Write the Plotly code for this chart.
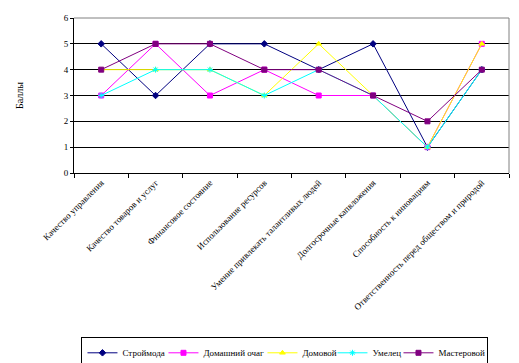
import plotly.graph_objects as go

categories = [
    "Качество управления",
    "Качество товаров и услуг",
    "Финансовое состояние",
    "Использование ресурсов",
    "Умение привлекать талантливых людей",
    "Долгосрочные капвложения",
    "Способность к инновациям",
    "Ответственность перед обществом и природой",
]
series_names = ["Строймода", "Домашний очаг", "Домовой", "Умелец", "Мастеровой"]
stroymoda = [5, 3, 5, 5, 4, 5, 1, 4]
domashniy_ochag = [3, 5, 3, 4, 3, 3, 1, 5]
domovoy = [4, 4, 4, 3, 5, 3, 1, 5]
umelets = [3, 4, 4, 3, 4, 3, 1, 4]
masterovoy = [4, 5, 5, 4, 4, 3, 2, 4]
y_ticks = [0, 1, 2, 3, 4, 5, 6]

values = [stroymoda, domashniy_ochag, domovoy, umelets, masterovoy]
colors = ["#000080", "#FF00FF", "#FFFF00", "#00FFFF", "#800080"]
symbols = ["diamond", "square", "triangle-up", "asterisk-open", "square"]
legend_widths = [36, 54, 25, 21, 44]

font = "Liberation Serif, Times New Roman, serif"

fig = go.Figure()
for name, vals, c, s, lw in zip(series_names, values, colors, symbols, legend_widths):
    fig.add_trace(go.Scatter(
        x=categories, y=vals, name=name, mode="lines+markers",
        line=dict(color=c, width=1),
        marker=dict(symbol=s, size=5, color=c, line=dict(color=c, width=1)),
        legendwidth=lw,
    ))

fig.update_layout(
    width=519, height=363,
    margin=dict(l=74, r=10, t=18, b=190, autoexpand=False),
    paper_bgcolor="white", plot_bgcolor="white",
    font=dict(family=font, size=9, color="black"),
    showlegend=True,
    legend=dict(
        orientation="h", xref="paper", yref="paper",
        x=0.485, y=-1.06, xanchor="center", yanchor="top",
        bordercolor="black", borderwidth=1, bgcolor="white",
        font=dict(size=9, family=font),
        itemwidth=30, tracegroupgap=0,
    ),
    xaxis=dict(
        type="category", tickangle=-45, tickson="boundaries",
        ticks="outside", ticklen=4, tickcolor="black",
        showline=True, linecolor="black", linewidth=1,
        showgrid=False, automargin=False, mirror=False,
        range=[-0.5, 7.5], tickfont=dict(size=9, family=font),
    ),
    yaxis=dict(
        range=[0, 6], tickvals=y_ticks, ticks="outside", ticklen=3,
        tickcolor="black", showline=True, linecolor="black", linewidth=1,
        gridcolor="black", gridwidth=1, zeroline=False, automargin=False,
        title=dict(text="Баллы", font=dict(size=10, family=font), standoff=38),
        tickfont=dict(size=9, family=font),
    ),
)
# gray plot-area border on top and right
fig.add_shape(type="line", xref="paper", yref="paper", x0=0, y0=1, x1=1, y1=1,
              line=dict(color="#808080", width=1), layer="above")
fig.add_shape(type="line", xref="paper", yref="paper", x0=1, y0=0, x1=1, y1=1,
              line=dict(color="#808080", width=1), layer="above")

fig.write_html("out.html", config={"displayModeBar": False},
               post_script="document.body.style.margin='0px';document.body.style.overflow='hidden';")
